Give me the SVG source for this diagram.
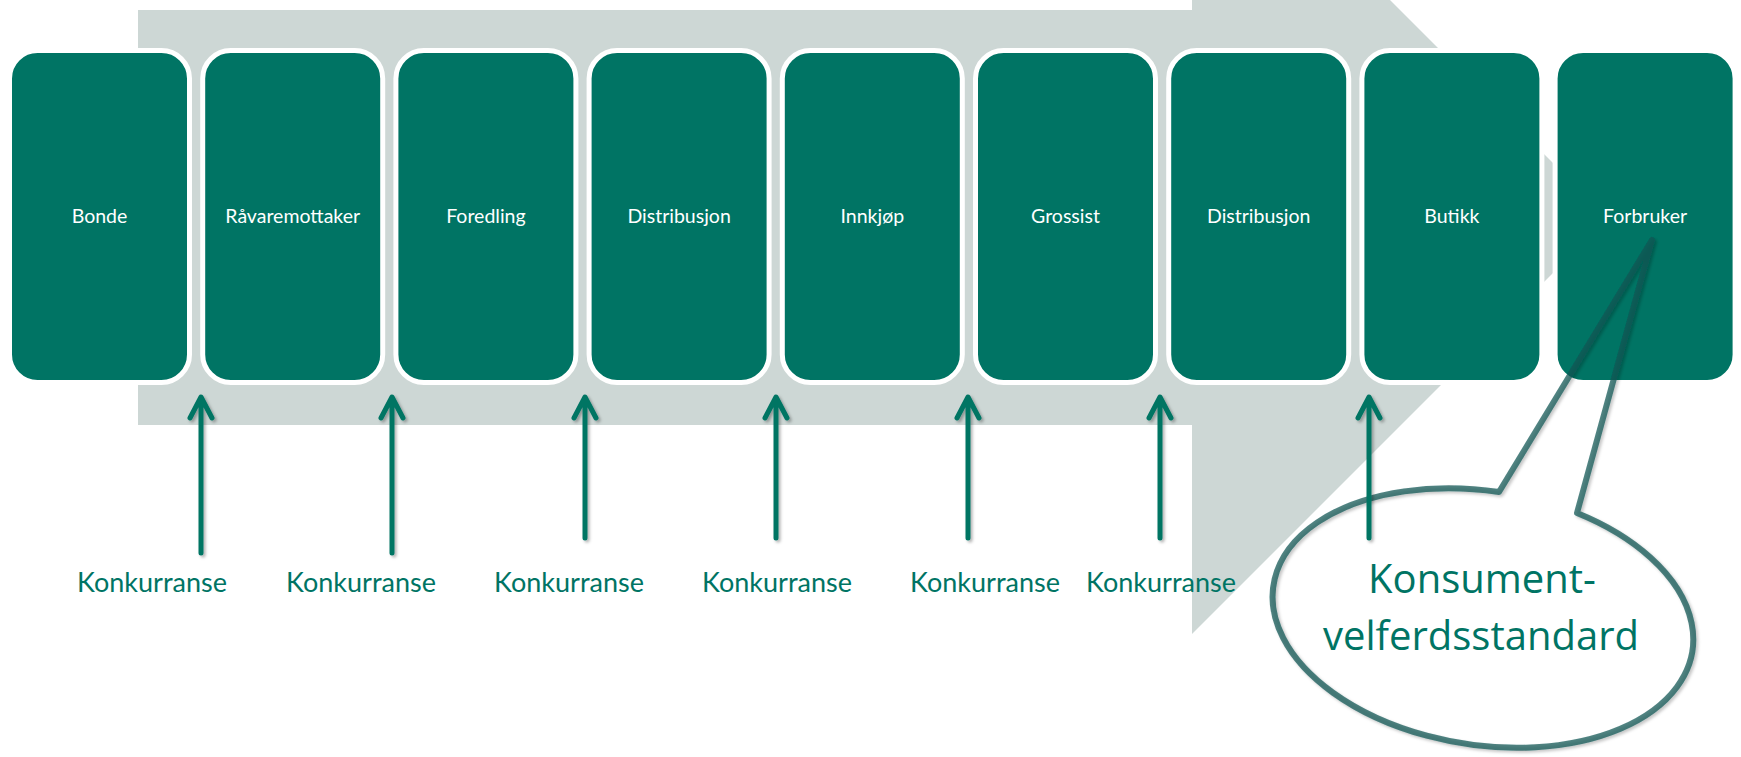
<svg xmlns="http://www.w3.org/2000/svg" width="1741" height="757" viewBox="0 0 1741 757">
<style>
.box{fill:#007464;stroke:#ffffff;stroke-width:5}
.lbl{font-family:Lato,"Open Sans",sans-serif;font-size:19.5px;fill:#ffffff;text-anchor:middle}
.kon{font-family:Lato,"Open Sans",sans-serif;font-size:27px;fill:#007464;text-anchor:middle}
.arr{stroke:#007464;stroke-width:5;fill:none;stroke-linecap:round;stroke-linejoin:round}
.big{font-family:"Open Sans",Lato,sans-serif;font-size:40px;fill:#007464;text-anchor:middle}
</style>
<defs>
<filter id="sh" x="-50%" y="-10%" width="200%" height="120%">
<feDropShadow dx="2" dy="2" stdDeviation="1.5" flood-color="#000" flood-opacity="0.3"/>
</filter>
</defs>
<rect width="1741" height="757" fill="#ffffff"/>
<g id="flow-arrow">
<polygon points="138,10 1192,10 1192,-198 1608,218 1192,634 1192,425 138,425" fill="#CDD7D5"/>
</g>
<g id="node-bonde"><rect class="box" x="9.5" y="50.5" width="180" height="332" rx="28"/><text class="lbl" x="99.5" y="223">Bonde</text></g>
<g id="node-ravaremottaker"><rect class="box" x="202.7" y="50.5" width="180" height="332" rx="28"/><text class="lbl" x="292.7" y="223">Råvaremottaker</text></g>
<g id="node-foredling"><rect class="box" x="395.9" y="50.5" width="180" height="332" rx="28"/><text class="lbl" x="485.9" y="223">Foredling</text></g>
<g id="node-distribusjon1"><rect class="box" x="589.1" y="50.5" width="180" height="332" rx="28"/><text class="lbl" x="679.1" y="223">Distribusjon</text></g>
<g id="node-innkjop"><rect class="box" x="782.3" y="50.5" width="180" height="332" rx="28"/><text class="lbl" x="872.3" y="223">Innkjøp</text></g>
<g id="node-grossist"><rect class="box" x="975.5" y="50.5" width="180" height="332" rx="28"/><text class="lbl" x="1065.5" y="223">Grossist</text></g>
<g id="node-distribusjon2"><rect class="box" x="1168.7" y="50.5" width="180" height="332" rx="28"/><text class="lbl" x="1258.7" y="223">Distribusjon</text></g>
<g id="node-butikk"><rect class="box" x="1361.9" y="50.5" width="180" height="332" rx="28"/><text class="lbl" x="1451.9" y="223">Butikk</text></g>
<g id="node-forbruker"><rect class="box" x="1555.1" y="50.5" width="180" height="332" rx="28"/><text class="lbl" x="1645.1" y="223">Forbruker</text></g>
<g id="callout">
<path d="M 1499 492 L 1652 240 L 1577 513 A 212 127 9 1 1 1499 492 Z" fill="none" stroke="#0F5553" stroke-opacity="0.73" stroke-width="6" stroke-linejoin="round" filter="url(#sh)"/>
<text class="big" x="1482" y="593">Konsument-</text>
<text class="big" x="1481" y="650">velferdsstandard</text>
</g>
<g id="connectors" filter="url(#sh)">
<path class="arr" d="M201 553V399M190 418L201 397L212 418"/>
<path class="arr" d="M392 553V399M381 418L392 397L403 418"/>
<path class="arr" d="M585 538V399M574 418L585 397L596 418"/>
<path class="arr" d="M776 538V399M765 418L776 397L787 418"/>
<path class="arr" d="M968 538V399M957 418L968 397L979 418"/>
<path class="arr" d="M1160 538V399M1149 418L1160 397L1171 418"/>
<path class="arr" d="M1369 538V399M1358 418L1369 397L1380 418"/>
</g>
<g id="labels">
<text class="kon" x="152" y="592">Konkurranse</text>
<text class="kon" x="361" y="592">Konkurranse</text>
<text class="kon" x="569" y="592">Konkurranse</text>
<text class="kon" x="777" y="592">Konkurranse</text>
<text class="kon" x="985" y="592">Konkurranse</text>
<text class="kon" x="1161" y="592">Konkurranse</text>
</g>
</svg>
